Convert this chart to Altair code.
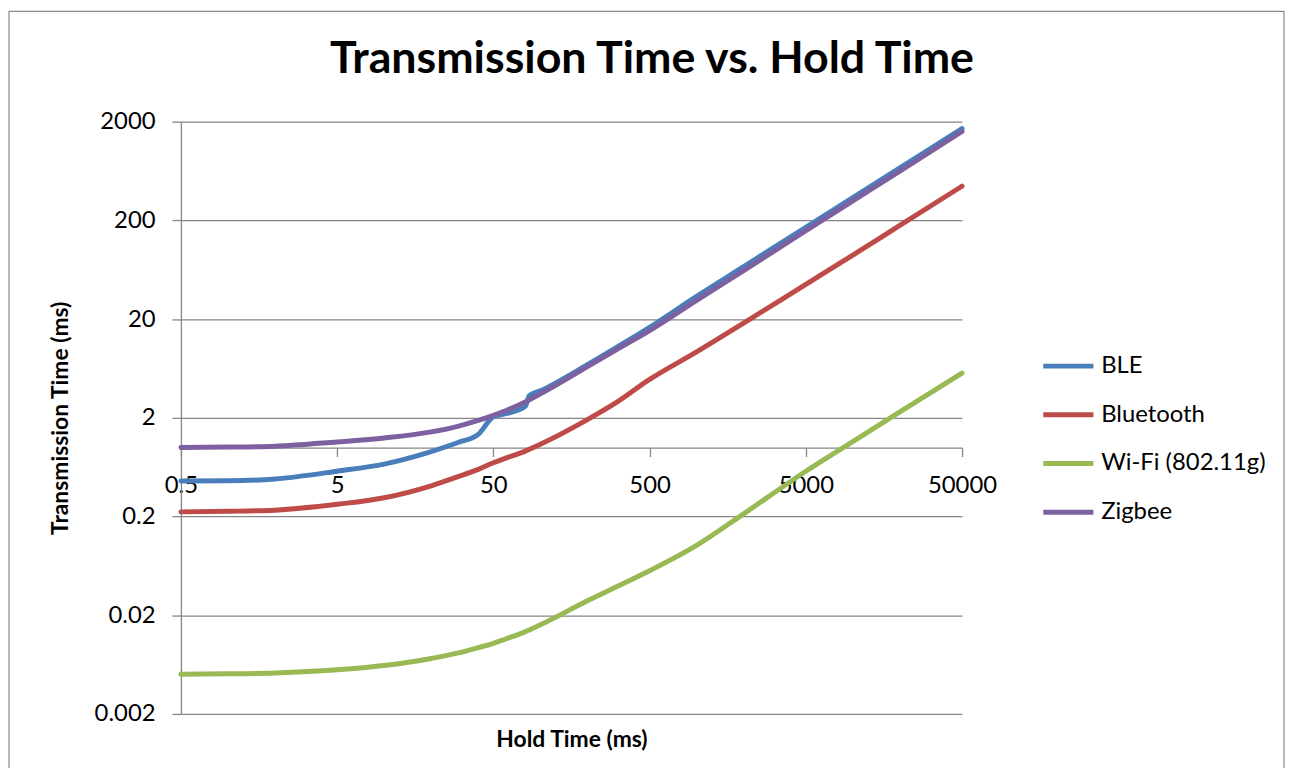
import altair as alt
import pandas as pd

# Hold time (ms) sample points
hold_ms = [0.5, 1, 2, 5, 10, 20, 30, 40, 50, 60, 80, 85, 100, 200, 300, 500,
           1000, 2000, 5000, 10000, 20000, 50000]

# Transmission time (ms) per technology
ble = [0.457, 0.46, 0.48, 0.576, 0.68, 0.91, 1.13, 1.36, 2.05, 2.2, 2.62, 3.35,
       3.75, 6.9, 10.1, 16.5, 34, 68, 170, 340, 680, 1700]
bluetooth = [0.223, 0.226, 0.232, 0.266, 0.31, 0.41, 0.51, 0.6, 0.70, 0.78, 0.92, 0.96,
             1.08, 1.92, 2.8, 4.9, 9.3, 18.2, 45, 89, 178, 444]
wifi = [0.00506, 0.0051, 0.0052, 0.0056, 0.0062, 0.0073, 0.0083, 0.0094, 0.0104, 0.0115,
        0.0136, 0.0142, 0.0160, 0.028, 0.0382, 0.0565, 0.102, 0.213, 0.575, 1.15, 2.3, 5.68]
zigbee = [1.0, 1.01, 1.03, 1.14, 1.25, 1.44, 1.65, 1.88, 2.12, 2.36, 2.9, 3.05,
          3.5, 6.6, 9.6, 15.3, 31, 62, 157, 315, 632, 1590]

series_names = ["BLE", "Bluetooth", "Wi-Fi (802.11g)", "Zigbee"]
series_colors = ["#4A7EBB", "#BE4B48", "#98B954", "#7D60A0"]
x_ticks = [0.5, 5, 50, 500, 5000, 50000]
y_ticks = [0.002, 0.02, 0.2, 2, 20, 200, 2000]

rows = []
for name, vals in zip(series_names, [ble, bluetooth, wifi, zigbee]):
    for h, v in zip(hold_ms, vals):
        rows.append({"hold": h, "tx": v, "series": name})
df = pd.DataFrame(rows)

FONT = "Lato"
GRAY = "#868686"

lines = alt.Chart(df).mark_line(
    strokeWidth=5, interpolate="monotone", strokeCap="round", strokeJoin="round"
).encode(
    x=alt.X("hold:Q",
            scale=alt.Scale(type="log", domain=[0.5, 50000], nice=False),
            axis=alt.Axis(values=x_ticks, format="~g", grid=False, offset=-268,
                          tickSize=9, labelPadding=17, labelFlush=False,
                          labelOverlap=False, title="Hold Time (ms)",
                          titleX=393, titleY=294, titleBaseline="middle")),
    y=alt.Y("tx:Q",
            scale=alt.Scale(type="log", domain=[0.002, 2000], nice=False),
            axis=alt.Axis(values=y_ticks, format="~g", grid=True, tickSize=9,
                          labelPadding=17, labelFlush=False, labelOverlap=False,
                          title="Transmission Time (ms)", titleX=-121, titleY=298,
                          titleAngle=270, titleBaseline="middle")),
    color=alt.Color("series:N",
                    scale=alt.Scale(domain=series_names, range=series_colors),
                    legend=alt.Legend(orient="none", legendX=865, legendY=221.5,
                                      title=None, symbolType="stroke",
                                      symbolSize=2550, symbolStrokeWidth=5,
                                      clipHeight=49, rowPadding=0, padding=0,
                                      labelFont=FONT, labelFontSize=24,
                                      labelLimit=400,
                                      labelColor="#000000", labelOffset=5)),
)

border = alt.Chart(pd.DataFrame({"k": [0]})).mark_rect(
    filled=False, stroke="#8a8a8a", strokeWidth=1.2
).encode(
    x=alt.value(-173), x2=alt.value(1110), y=alt.value(-111), y2=alt.value(700)
)

chart = alt.layer(border, lines).properties(
    width=786, height=596,
    padding={"left": 174, "top": 112, "right": 325, "bottom": 52},
    autosize=alt.AutoSizeParams(type="none"),
    title=alt.Title("Transmission Time vs. Hold Time", font=FONT, fontSize=45,
                    fontWeight="bold", color="#000000", anchor="middle",
                    frame="group", dx=81, dy=108, baseline="alphabetic", offset=0),
).configure_axis(
    domainColor=GRAY, tickColor=GRAY, gridColor=GRAY,
    domainWidth=1.3, tickWidth=1.3, gridWidth=1.3,
    labelFont=FONT, labelFontSize=24, labelColor="#000000",
    titleFont=FONT, titleFontSize=23, titleFontWeight="bold", titleColor="#000000",
).configure_view(stroke=None)

chart.save("out.html", embed_options={"renderer": "svg", "actions": False})
